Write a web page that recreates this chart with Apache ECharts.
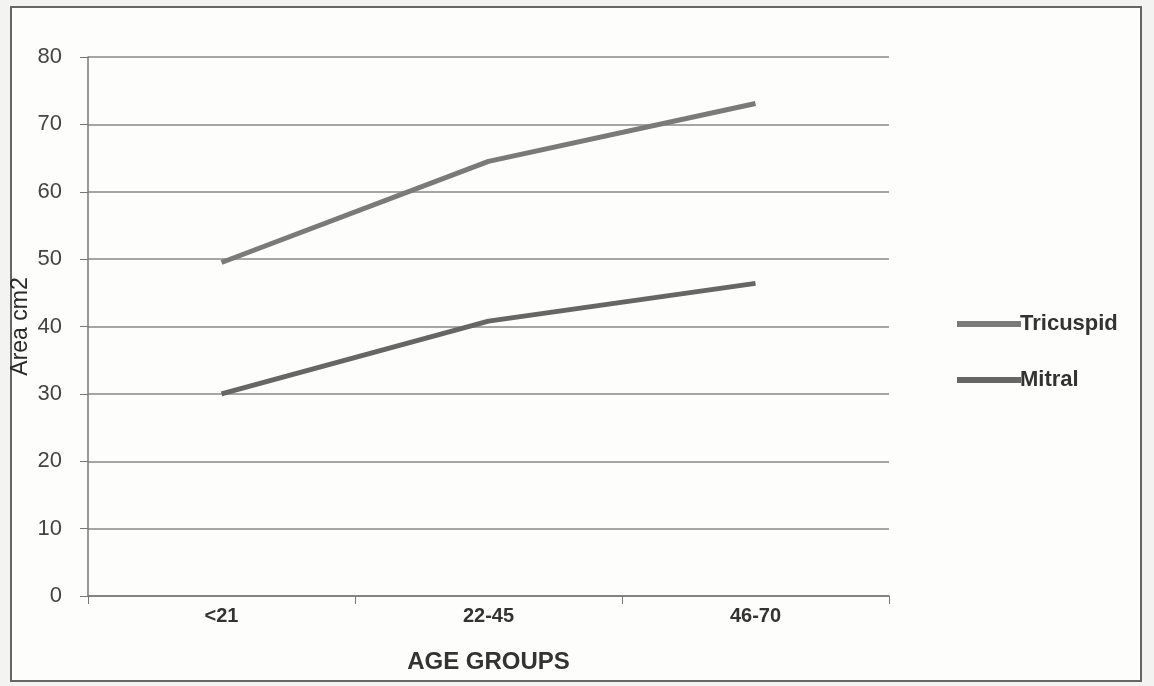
<!DOCTYPE html>
<html><head><meta charset="utf-8">
<script src="https://cdn.jsdelivr.net/npm/echarts@6/dist/echarts.min.js"></script>
<style>html,body{margin:0;padding:0;background:#f3f3f1;}#c{width:1154px;height:686px;}</style>
</head><body><div id="c"></div>
<script>
const categories = ['<21', '22-45', '46-70'];
const tricuspid = [49.5, 64.5, 73.1];
const mitral = [30.0, 40.8, 46.4];
const yTicks = [0, 10, 20, 30, 40, 50, 60, 70, 80];

const chart = echarts.init(document.getElementById('c'));
chart.setOption({
  backgroundColor: '#f3f3f1',
  animation: false,
  graphic: [{
    type: 'rect', left: 10, top: 6, shape: {width: 1130, height: 674},
    style: {fill: '#fdfdfc', stroke: '#666', lineWidth: 2}, z: -10
  }],
  grid: {left: 88, right: 265, top: 57, bottom: 90, containLabel: false, outerBoundsMode: 'none'},
  legend: {
    orient: 'vertical', left: 952, top: 308, itemGap: 34,
    itemWidth: 64, itemHeight: 6, icon: 'rect',
    textStyle: {fontFamily: 'Liberation Sans', fontWeight: 'bold', fontSize: 22, color: '#333', padding: [0, 0, 0, -6]},
    data: ['Tricuspid', 'Mitral']
  },
  xAxis: {
    type: 'category', data: categories, boundaryGap: true,
    name: 'AGE GROUPS', nameLocation: 'middle', nameGap: 54,
    nameTextStyle: {fontFamily: 'Liberation Sans', fontWeight: 'bold', fontSize: 24, color: '#333'},
    axisLine: {lineStyle: {color: '#777', width: 1.5}},
    axisTick: {show: true, length: 8, lineStyle: {color: '#777'}},
    axisLabel: {fontFamily: 'Liberation Sans', fontWeight: 'bold', fontSize: 20, color: '#333', margin: 10}
  },
  yAxis: {
    type: 'value', min: 0, max: 80, interval: 10,
    name: 'Area cm2', nameLocation: 'middle', nameGap: 56, nameRotate: 90, nameMoveOverlap: false,
    nameTextStyle: {fontFamily: 'Liberation Sans', fontSize: 23, color: '#2a2a2a'},
    axisLine: {show: true, lineStyle: {color: '#777', width: 1.5}},
    axisTick: {show: true, length: 8, lineStyle: {color: '#777'}},
    axisLabel: {fontFamily: 'Liberation Sans', fontSize: 22, color: '#444', margin: 26,
      formatter: v => yTicks.includes(v) ? String(v) : ''},
    splitLine: {lineStyle: {color: '#888', width: 1.5}}
  },
  series: [
    {name: 'Tricuspid', type: 'line', data: tricuspid, symbol: 'none',
     lineStyle: {color: '#7a7a7a', width: 5}, itemStyle: {color: '#7a7a7a'}},
    {name: 'Mitral', type: 'line', data: mitral, symbol: 'none',
     lineStyle: {color: '#666666', width: 5}, itemStyle: {color: '#666666'}}
  ]
});
</script></body></html>
